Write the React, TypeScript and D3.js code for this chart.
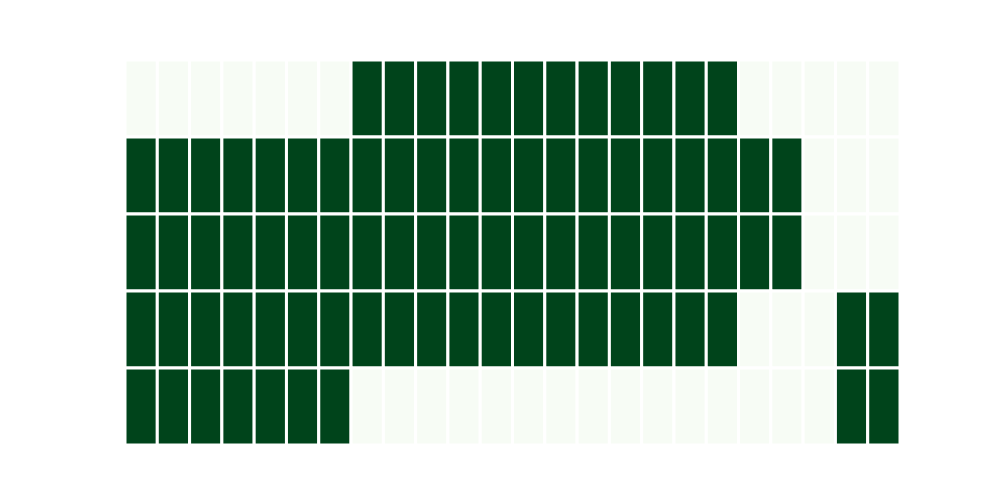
import React, { useRef, useEffect } from 'react';
import * as d3 from 'd3';

// 5 rows x 24 columns, 1 = on (dark), 0 = off (light)
const rowLabels = ['r0', 'r1', 'r2', 'r3', 'r4'];
const colLabels = d3.range(24).map(i => 'c' + i);

const row0 = [0, 0, 0, 0, 0, 0, 0, 1, 1, 1, 1, 1, 1, 1, 1, 1, 1, 1, 1, 0, 0, 0, 0, 0];
const row1 = [1, 1, 1, 1, 1, 1, 1, 1, 1, 1, 1, 1, 1, 1, 1, 1, 1, 1, 1, 1, 1, 0, 0, 0];
const row2 = [1, 1, 1, 1, 1, 1, 1, 1, 1, 1, 1, 1, 1, 1, 1, 1, 1, 1, 1, 1, 1, 0, 0, 0];
const row3 = [1, 1, 1, 1, 1, 1, 1, 1, 1, 1, 1, 1, 1, 1, 1, 1, 1, 1, 1, 0, 0, 0, 1, 1];
const row4 = [1, 1, 1, 1, 1, 1, 1, 0, 0, 0, 0, 0, 0, 0, 0, 0, 0, 0, 0, 0, 0, 0, 1, 1];

const rows = [row0, row1, row2, row3, row4];

const App = () => {
  const chartRef = useRef<SVGSVGElement>(null);

  useEffect(() => {
    const svg = d3.select(chartRef.current);
    svg.selectAll('*').remove();

    const width = 1000,
      height = 500,
      margin = { top: 60, right: 100, bottom: 55, left: 125 };

    const x = d3
      .scaleBand()
      .domain(colLabels)
      .range([margin.left, width - margin.right]);
    const y = d3
      .scaleBand()
      .domain(rowLabels)
      .range([margin.top, height - margin.bottom]);
    const color = d3.scaleSequential(d3.interpolateGreens).domain([0, 1]);

    const cells: { r: string; c: string; v: number }[] = [];
    rows.forEach((vals, i) => {
      vals.forEach((v, j) => cells.push({ r: rowLabels[i], c: colLabels[j], v }));
    });

    svg
      .append('g')
      .selectAll('rect')
      .data(cells)
      .enter()
      .append('rect')
      .attr('x', d => x(d.c)!)
      .attr('y', d => y(d.r)!)
      .attr('width', x.bandwidth())
      .attr('height', y.bandwidth())
      .attr('fill', d => color(d.v))
      .attr('stroke', '#fff')
      .attr('stroke-width', 3);
  }, []);

  return (
    <svg
      ref={chartRef}
      width="1000"
      height="500"
      style={{ position: 'absolute', left: 0, top: 0, background: '#fff' }}
    />
  );
};

export default App;
